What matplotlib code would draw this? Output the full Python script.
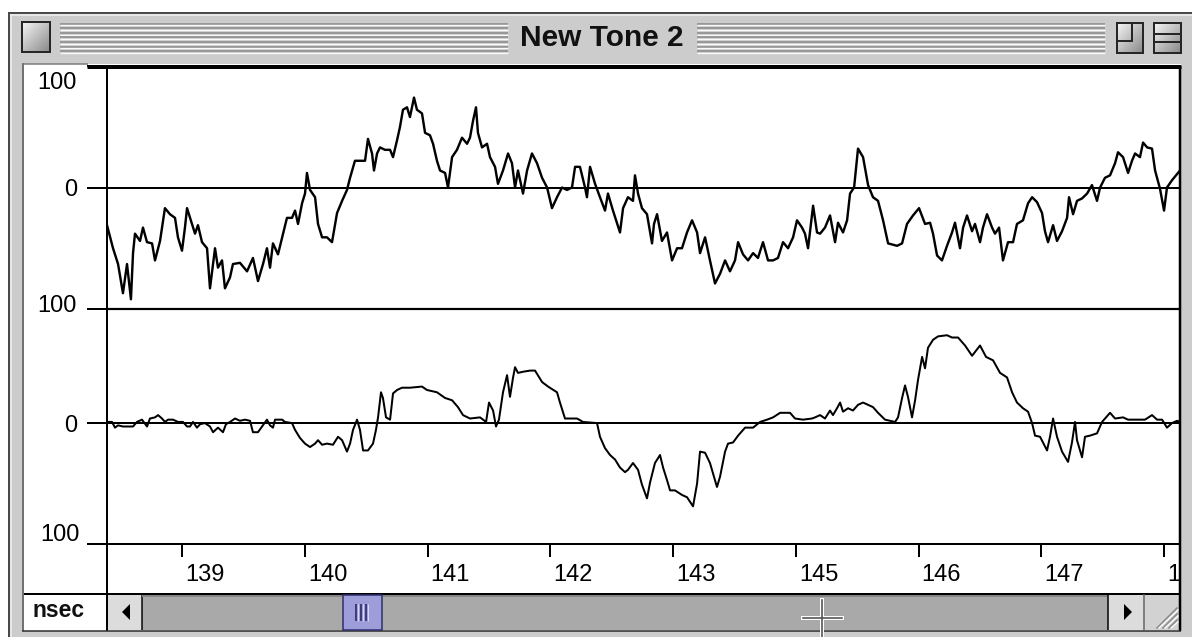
import numpy as np
import matplotlib
matplotlib.use('Agg')
import matplotlib.pyplot as plt
from matplotlib.patches import Rectangle, Polygon
from matplotlib.transforms import ScaledTranslation
from matplotlib.colors import LinearSegmentedColormap

plt.rcParams['font.family'] = ['Liberation Sans', 'DejaVu Sans']

# time window shown (msec) and tick labels as the app prints them
T_START, T_END = 138.389, 147.130
tick_pos = [139, 140, 141, 142, 143, 144, 145, 146, 147]
tick_lbl = ['139', '140', '141', '142', '143', '145', '146', '147', '148']

# upper trace
top_t = [138.389, 138.438, 138.479, 138.519, 138.552, 138.584, 138.601, 138.617, 138.658, 138.682,
         138.715, 138.756, 138.780, 138.821, 138.861, 138.902, 138.943, 138.967, 139.000, 139.024,
         139.041, 139.081, 139.106, 139.130, 139.163, 139.204, 139.228, 139.269, 139.293, 139.326,
         139.350, 139.391, 139.415, 139.472, 139.530, 139.578, 139.619, 139.660, 139.692, 139.717,
         139.741, 139.782, 139.823, 139.855, 139.896, 139.921, 139.945, 139.978, 140.002, 140.018,
         140.043, 140.084, 140.108, 140.141, 140.181, 140.222, 140.263, 140.304, 140.344, 140.369,
         140.409, 140.450, 140.491, 140.515, 140.548, 140.564, 140.589, 140.613, 140.654, 140.695,
         140.719, 140.752, 140.776, 140.800, 140.833, 140.857, 140.890, 140.914, 140.955, 140.980,
         141.020, 141.045, 141.077, 141.102, 141.143, 141.167, 141.200, 141.240, 141.281, 141.322,
         141.346, 141.371, 141.395, 141.411, 141.444, 141.485, 141.509, 141.550, 141.574, 141.615,
         141.656, 141.688, 141.713, 141.737, 141.778, 141.811, 141.851, 141.892, 141.933, 141.974,
         142.014, 142.055, 142.096, 142.136, 142.177, 142.202, 142.242, 142.283, 142.299, 142.324,
         142.365, 142.405, 142.446, 142.470, 142.511, 142.568, 142.593, 142.633, 142.674, 142.690,
         142.715, 142.747, 142.788, 142.829, 142.845, 142.870, 142.910, 142.951, 142.992, 143.033,
         143.073, 143.114, 143.155, 143.196, 143.220, 143.261, 143.301, 143.342, 143.383, 143.424,
         143.464, 143.505, 143.530, 143.570, 143.611, 143.652, 143.692, 143.733, 143.774, 143.815,
         143.855, 143.896, 143.937, 143.978, 144.010, 144.051, 144.075, 144.100, 144.141, 144.173,
         144.198, 144.238, 144.279, 144.320, 144.344, 144.385, 144.418, 144.442, 144.475, 144.507,
         144.548, 144.589, 144.629, 144.670, 144.711, 144.752, 144.825, 144.866, 144.906, 144.955,
         145.004, 145.053, 145.094, 145.118, 145.151, 145.191, 145.232, 145.273, 145.297, 145.338,
         145.363, 145.395, 145.436, 145.460, 145.501, 145.525, 145.558, 145.599, 145.623, 145.656,
         145.688, 145.729, 145.770, 145.802, 145.851, 145.892, 145.925, 145.965, 146.006, 146.030,
         146.055, 146.096, 146.128, 146.169, 146.210, 146.226, 146.259, 146.291, 146.332, 146.373,
         146.413, 146.454, 146.479, 146.519, 146.560, 146.601, 146.625, 146.666, 146.707, 146.739,
         146.764, 146.804, 146.829, 146.862, 146.902, 146.927, 146.967, 147.000, 147.024, 147.065,
         147.114, 147.130]
top_v = [-31, -50, -63, -87, -63, -92, -54, -38, -44, -33,
         -45, -46, -60, -44, -17, -22, -25, -41, -52, -33,
         -17, -30, -38, -31, -45, -50, -83, -50, -66, -60,
         -83, -74, -63, -62, -69, -58, -77, -63, -50, -66,
         -46, -55, -38, -25, -25, -19, -30, -13, -5, 12,
         -2, -8, -30, -41, -41, -45, -21, -11, -2, 8,
         22, 22, 22, 40, 28, 14, 28, 33, 31, 31,
         25, 39, 50, 64, 66, 58, 74, 64, 61, 45,
         43, 36, 22, 14, 12, 0, 25, 31, 41, 36,
         41, 55, 66, 45, 33, 36, 25, 17, 3, 14,
         28, 20, 0, 14, -5, 14, 28, 20, 8, 0,
         -17, -8, 0, -2, 0, 17, 17, 0, -8, 17,
         3, -8, -19, -5, -19, -37, -17, -8, -11, 10,
         -5, -17, -22, -46, -30, -22, -44, -37, -60, -50,
         -50, -37, -27, -37, -54, -41, -60, -79, -71, -60,
         -69, -60, -45, -55, -60, -54, -58, -45, -60, -60,
         -58, -45, -50, -41, -27, -33, -38, -50, -15, -37,
         -38, -33, -23, -45, -29, -37, -27, -5, 0, 32,
         25, 2, -8, -11, -27, -46, -48, -46, -30, -23,
         -17, -30, -29, -38, -56, -60, -48, -37, -29, -50,
         -33, -23, -36, -30, -45, -33, -22, -33, -38, -33,
         -60, -45, -45, -30, -27, -13, -8, -12, -21, -36,
         -45, -31, -44, -36, -25, -8, -22, -11, -9, -5,
         2, -11, 0, 8, 10, 20, 29, 25, 12, 22,
         28, 25, 37, 33, 32, 14, -1, -19, 0, 6,
         12, 14]

# lower trace
bot_t = [138.389, 138.430, 138.454, 138.479, 138.519, 138.560, 138.601, 138.633, 138.674, 138.715,
         138.739, 138.780, 138.805, 138.837, 138.861, 138.886, 138.927, 138.967, 139.008, 139.041,
         139.065, 139.090, 139.122, 139.147, 139.187, 139.228, 139.253, 139.293, 139.334, 139.358,
         139.391, 139.432, 139.472, 139.513, 139.554, 139.578, 139.619, 139.652, 139.692, 139.717,
         139.741, 139.758, 139.815, 139.839, 139.896, 139.921, 139.961, 140.002, 140.043, 140.084,
         140.108, 140.141, 140.181, 140.230, 140.271, 140.304, 140.344, 140.369, 140.393, 140.426,
         140.450, 140.475, 140.515, 140.556, 140.580, 140.597, 140.621, 140.637, 140.662, 140.695,
         140.719, 140.752, 140.792, 140.857, 140.955, 140.996, 141.077, 141.143, 141.200, 141.248,
         141.289, 141.346, 141.428, 141.477, 141.501, 141.534, 141.558, 141.582, 141.615, 141.648,
         141.672, 141.697, 141.713, 141.737, 141.778, 141.835, 141.876, 141.933, 141.982, 142.055,
         142.079, 142.120, 142.218, 142.267, 142.381, 142.405, 142.446, 142.487, 142.528, 142.568,
         142.609, 142.633, 142.674, 142.715, 142.747, 142.788, 142.813, 142.853, 142.894, 142.919,
         142.951, 142.976, 143.016, 143.073, 143.114, 143.163, 143.196, 143.220, 143.261, 143.301,
         143.358, 143.383, 143.424, 143.448, 143.489, 143.530, 143.587, 143.652, 143.709, 143.766,
         143.815, 143.872, 143.953, 143.994, 144.059, 144.132, 144.157, 144.198, 144.238, 144.279,
         144.303, 144.336, 144.361, 144.385, 144.426, 144.466, 144.507, 144.548, 144.589, 144.629,
         144.670, 144.727, 144.809, 144.833, 144.866, 144.890, 144.914, 144.947, 144.972, 144.996,
         145.029, 145.053, 145.077, 145.118, 145.159, 145.232, 145.273, 145.322, 145.379, 145.436,
         145.501, 145.550, 145.607, 145.664, 145.721, 145.762, 145.802, 145.851, 145.892, 145.925,
         145.949, 145.990, 146.047, 146.071, 146.096, 146.128, 146.169, 146.218, 146.250, 146.275,
         146.291, 146.332, 146.356, 146.397, 146.454, 146.495, 146.560, 146.601, 146.666, 146.707,
         146.845, 146.902, 146.943, 146.984, 147.024, 147.065, 147.106, 147.130]
bot_v = [1, 1, -4, -2, -3, -3, -3, 1, 3, -3,
         4, 5, 7, 4, 1, 3, 3, 1, 1, -3,
         -3, 1, -4, -1, 0, -3, -8, -4, -8, -1,
         1, 4, 2, 3, 2, -8, -8, -3, 3, -2,
         -4, 3, 3, 1, 0, -6, -13, -18, -21, -18,
         -15, -19, -18, -19, -12, -15, -25, -18, -6, 3,
         -6, -24, -24, -18, -6, 5, 27, 22, 5, 3,
         26, 29, 31, 31, 32, 29, 27, 22, 20, 14,
         7, 4, 5, 1, 18, 11, -3, 3, 27, 42,
         23, 40, 49, 44, 45, 46, 46, 36, 32, 27,
         18, 4, 4, 1, 0, -12, -22, -28, -32, -39,
         -43, -41, -35, -41, -54, -66, -52, -35, -28, -39,
         -50, -59, -59, -63, -65, -73, -53, -25, -26, -35,
         -56, -47, -25, -18, -17, -11, -4, -4, 1, 3,
         5, 9, 9, 4, 3, 4, 5, 7, 4, 11,
         7, 13, 18, 10, 13, 11, 16, 18, 16, 14,
         9, 3, 1, 5, 22, 33, 23, 5, 20, 38,
         58, 48, 66, 73, 76, 77, 75, 75, 68, 59,
         68, 58, 55, 44, 40, 27, 18, 13, 10, 0,
         -11, -12, -24, -12, 4, -12, -25, -34, -17, 1,
         -15, -30, -12, -11, -9, 1, 9, 4, 5, 3,
         3, 7, 3, 3, -4, 0, 2, 1]

W, H = 1192, 637
PX = 0.72  # points per screen pixel at 100 dpi

fig = plt.figure(figsize=(W / 100, H / 100), dpi=100, facecolor='white')


def frac(x0, y0, x1, y1):
    return [x0 / W, 1 - y1 / H, (x1 - x0) / W, (y1 - y0) / H]


def nudge(label, dx, dy):
    label.set_transform(label.get_transform() +
                        ScaledTranslation(dx / 100, -dy / 100, fig.dpi_scale_trans))


# ---- the two trace panels ----
ax_top = fig.add_axes(frac(107, 66, 1180, 309))
ax_bot = fig.add_axes(frac(107, 309, 1180, 544))
for ax in (ax_top, ax_bot):
    ax.set_xlim(T_START, T_END)
    ax.patch.set_visible(False)
    ax.axhline(0, color='black', lw=2 * PX, zorder=1)
    for sp in ax.spines.values():
        sp.set_linewidth(2 * PX)
    ax.tick_params(axis='y', direction='out', length=20 * PX, width=2 * PX,
                   pad=10 * PX, labelsize=17)

ax_top.plot(top_t, top_v, color='black', lw=2.4 * PX, zorder=2)
ax_top.set_ylim(-100, 100)
ax_top.set_xticks([])
ax_top.set_yticks([100, 0, -100], ['100', '0', '100'])
ax_top.spines['top'].set_linewidth(3 * PX)
ax_top.spines['bottom'].set_linewidth(2.2 * PX)
ax_top.tick_params(axis='y', direction='out', length=20 * PX, width=2 * PX,
                   pad=10 * PX, labelsize=17)
labs = ax_top.get_yticklabels()
labs[0].set_va('top')
nudge(labs[0], 0, 6)
labs[2].set_va('center')
nudge(labs[2], 0, -3)

ax_bot.plot(bot_t, bot_v, color='black', lw=2.0 * PX, zorder=2)
ax_bot.set_ylim(-106, 100)
ax_bot.set_yticks([0, -106], ['0', '100'])
ax_bot.spines['top'].set_visible(False)
ax_bot.set_xticks(tick_pos, tick_lbl)
ax_bot.tick_params(axis='y', direction='out', length=20 * PX, width=2 * PX,
                   pad=10 * PX, labelsize=17)
ax_bot.tick_params(axis='x', direction='out', length=13 * PX, width=2 * PX,
                   pad=7 * PX, labelsize=17)
labs = ax_bot.get_yticklabels()
labs[1].set_va('bottom')
nudge(labs[1], 3, 2)
for lab in ax_bot.get_xticklabels():
    lab.set_ha('left')
    nudge(lab, 3, 0)

# ---- window chrome drawn over the panels ----
ui = fig.add_axes([0, 0, 1, 1], zorder=10)
ui.axis('off')


def rect(x0, y0, x1, y1, fc, ec='none', lw=0, z=2):
    ui.add_patch(Rectangle((x0, y0), x1 - x0, y1 - y0, facecolor=fc,
                           edgecolor=ec, linewidth=lw * PX, zorder=z))


def hline(y, x0, x1, c, lw, z=3):
    ui.plot([x0, x1], [y, y], color=c, lw=lw * PX, solid_capstyle='butt', zorder=z)


def vline(x, y0, y1, c, lw, z=3):
    ui.plot([x, x], [y0, y1], color=c, lw=lw * PX, solid_capstyle='butt', zorder=z)


bevel = LinearSegmentedColormap.from_list('bevel', ['#f4f4f4', '#8a8a8a'])
grad = np.add.outer(np.linspace(0, 1, 24), np.linspace(0, 1, 24)) / 2


def button(x0, y0, x1, y1):
    ui.imshow(grad, cmap=bevel, extent=(x0, x1, y1, y0), aspect='auto',
              interpolation='bilinear', zorder=4)
    ui.add_patch(Rectangle((x0, y0), x1 - x0, y1 - y0, fill=False,
                           edgecolor='#262626', linewidth=2 * PX, zorder=5))


FRAME = '#cccccc'
# title bar and frame
rect(8, 12, W, 64, FRAME)
rect(8, 12, 24, H, FRAME)
rect(1181, 64, W, H, FRAME)
rect(8, 631, W, H, FRAME)
hline(12.5, 8, W, '#4a4a4a', 2)
vline(8.5, 12, H, '#4a4a4a', 2)
hline(14.5, 10, W, '#f0f0f0', 1.5)
vline(10.5, 14, H, '#f0f0f0', 1.5)
vline(23, 63, 631, '#555555', 1.5)
hline(64, 22, 88, '#7a7a7a', 1.5)
hline(66.5, 87, 1181, 'black', 3)
hline(309, 107, 1181, 'black', 2)

# pinstripes either side of the title
for k in range(7):
    y = 23.5 + 4.6 * k
    for x0, x1 in ((60, 508), (697, 1105)):
        hline(y, x0, x1, '#8c8c8c', 1.6)
        hline(y + 1.8, x0, x1, '#fafafa', 1.3)

ui.text(602, 46, 'New Tone 2', ha='center', va='baseline', fontsize=21.5,
        fontweight='bold', color='#111111', zorder=6)

# close box, zoom box, collapse box
button(22, 22, 50, 52)
button(1117, 23, 1143, 53)
ui.add_patch(Rectangle((1117, 23), 15, 18, fill=False, edgecolor='#262626',
                       linewidth=2 * PX, zorder=6))
button(1154, 23, 1181, 53)
hline(34, 1154, 1181, '#262626', 2, z=6)
hline(42, 1154, 1181, '#262626', 2, z=6)

# right edge and lower part of the plotting area
vline(1180, 65, 631, 'black', 2.5)
vline(107, 540, 631, 'black', 2)
hline(593.5, 24, 1181, 'black', 2)
hline(630.5, 22, 1181, '#2a2a2a', 1.5)

# units box
rect(24, 594.5, 106, 630, 'white')
ui.text(33, 617, 'nsec', ha='left', va='baseline', fontsize=16.5,
        fontweight='bold', color='#111111', zorder=6)

# horizontal scroll bar
rect(108, 594.5, 141, 630, '#dcdcdc')
vline(141.5, 594, 630, 'black', 1.5)
ui.add_patch(Polygon([(122, 612), (130, 604), (130, 620)], closed=True,
                     facecolor='black', edgecolor='none', zorder=6))
rect(142, 594.5, 1108, 630, '#a9a9a9')
hline(596, 142, 1108, '#858585', 2)
rect(343, 594.5, 382, 630, '#9d9dd9', ec='#2c2c6e', lw=1.5, z=4)
for gx in (356, 361, 366):
    vline(gx, 604, 621, '#1e1e5a', 1.5, z=5)
    vline(gx + 1.5, 604, 621, '#d8d8f4', 1, z=5)
rect(1108, 594.5, 1143, 630, '#dcdcdc')
vline(1108, 594, 630, 'black', 1.5)
vline(1143.5, 594, 630, '#555555', 1.5)
ui.add_patch(Polygon([(1132, 612), (1124, 604), (1124, 620)], closed=True,
                     facecolor='black', edgecolor='none', zorder=6))

# grow box
rect(1144.5, 594.5, 1179, 630, '#d2d2d2')
for k in range(3):
    ui.plot([1157 + 6 * k, 1177], [628, 608 + 6 * k], color='#8a8a8a',
            lw=1.6 * PX, zorder=5)
    ui.plot([1159 + 6 * k, 1178], [628, 610 + 6 * k], color='white',
            lw=1.2 * PX, zorder=5)

# mouse cursor
for c, lw in (('white', 4), ('#505050', 1.6)):
    ui.plot([822, 822], [600, 637], color=c, lw=lw * PX, zorder=7)
    ui.plot([803, 842], [618, 618], color=c, lw=lw * PX, zorder=7)

ui.set_xlim(0, W)
ui.set_ylim(H, 0)

fig.savefig('out.png', dpi=100, facecolor='white')
